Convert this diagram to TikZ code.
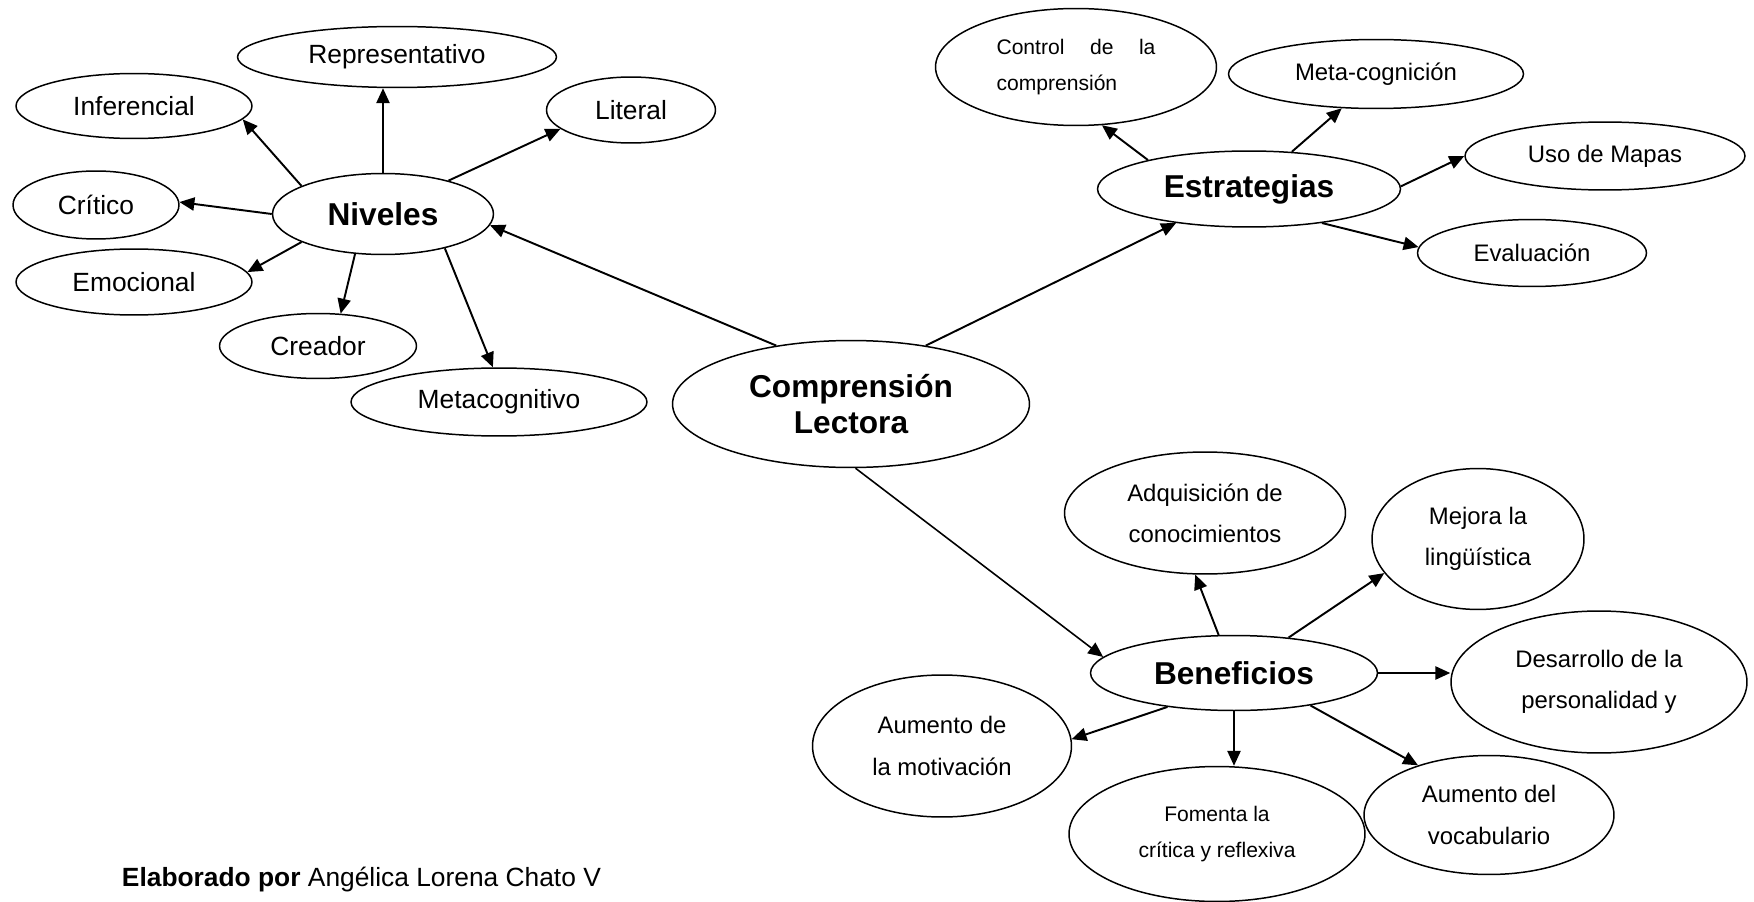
\documentclass[tikz,border=0pt]{standalone}
\usepackage{fontspec}
\setmainfont{Liberation Sans}
\usetikzlibrary{arrows.meta,shapes.geometric}

\begin{document}
\begin{tikzpicture}[x=0.02cm, y=-0.02cm, line width=1.1pt,
	arrows={-Triangle[length=8.5pt,width=7.5pt]},
	ell/.style 2 args={draw, line width=0.85pt, ellipse, inner sep=0pt, minimum width=#1, minimum height=#2},
	hub/.style={font=\bfseries\fontsize{18}{20.5}\selectfont, align=center},
	lvtext/.style={font=\fontsize{15}{18}\selectfont},
	subtext/.style={font=\fontsize{13.6}{23.5}\selectfont, align=center},
	smalltext/.style={font=\fontsize{12}{20}\selectfont, align=center}]
	\useasboundingbox (0,0) rectangle (1754,902);

	% centro
	\node[ell={7.14cm}{2.54cm}, hub] (com) at (851,404) {Comprensión\\Lectora};

	% niveles
	\node[ell={4.42cm}{1.62cm}, hub] (niv) at (383,214) {Niveles};
	\node[ell={6.38cm}{1.22cm}, lvtext] (rep) at (397,57) {Representativo};
	\node[ell={4.72cm}{1.30cm}, lvtext] (inf) at (134,106) {Inferencial};
	\node[ell={3.38cm}{1.32cm}, lvtext] (lit) at (631,110) {Literal};
	\node[ell={3.32cm}{1.36cm}, lvtext] (cri) at (96,205) {Crítico};
	\node[ell={4.72cm}{1.32cm}, lvtext] (emo) at (134,282) {Emocional};
	\node[ell={3.94cm}{1.30cm}, lvtext] (cre) at (318,346) {Creador};
	\node[ell={5.92cm}{1.36cm}, lvtext] (met) at (499,402) {Metacognitivo};

	% estrategias
	\node[ell={6.06cm}{1.52cm}, hub] (est) at (1249,189) {Estrategias};
	\node[ell={5.62cm}{2.34cm}, smalltext, align=left] (con) at (1076,67)
		{\makebox[3.18cm][s]{Control de la}\\comprensión};
	\node[ell={5.90cm}{1.38cm}, subtext] (mco) at (1376,74) {Meta-cognición};
	\node[ell={5.60cm}{1.36cm}, subtext] (uso) at (1605,156) {Uso de Mapas};
	\node[ell={4.58cm}{1.34cm}, subtext] (eva) at (1532,253) {Evaluación};

	% beneficios
	\node[ell={5.74cm}{1.50cm}, hub] (ben) at (1234,673) {Beneficios};
	\node[ell={5.62cm}{2.44cm}, subtext] (adq) at (1205,513) {Adquisición de\\conocimientos};
	\node[ell={4.24cm}{2.82cm}, subtext] (mej) at (1478,539) {Mejora la\\lingüística};
	\node[ell={5.92cm}{2.84cm}, subtext] (des) at (1599,682) {Desarrollo de la\\personalidad y};
	\node[ell={5.18cm}{2.84cm}, subtext] (mot) at (942,746) {Aumento de\\la motivación};
	\node[ell={5.92cm}{2.70cm}, smalltext] (fom) at (1217,834) {Fomenta la\\crítica y reflexiva};
	\node[ell={5.00cm}{2.38cm}, subtext] (voc) at (1489,815) {Aumento del\\vocabulario};

	\node[anchor=base west, inner sep=0pt, lvtext] (aut) at (121,886)
		{\textbf{Elaborado por} Angélica Lorena Chato V};

	\draw (com.142) -- (niv.-6);
	\draw (com.38) -- (est.205);
	\draw[line width=0.9pt] (com.-86) -- (ben.173);

	\draw (niv.north) -- (niv.north |- rep.south);
	\draw (niv.161) -- (inf.-7);
	\draw (niv.27) -- (lit.195);
	\draw (niv.180) -- (cri.2);
	\draw (niv.199) -- (emo.5);
	\draw (niv.235) -- (cre.55);
	\draw (niv.-29) -- (met.100);

	\draw (est.164) -- (con.-66);
	\draw (est.41) -- (mco.225);
	\draw (est.1) -- (uso.180);
	\draw (est.-25) -- (eva.177);

	\draw (ben.112) -- (adq.-99);
	\draw (ben.33) -- (mej.200);
	\draw (ben.east) -- (ben.east -| des.west);
	\draw (ben.207) -- (mot.3);
	\draw (ben.south) -- (ben.south |- fom.north);
	\draw (ben.-23) -- (voc.145);
\end{tikzpicture}
\end{document}
